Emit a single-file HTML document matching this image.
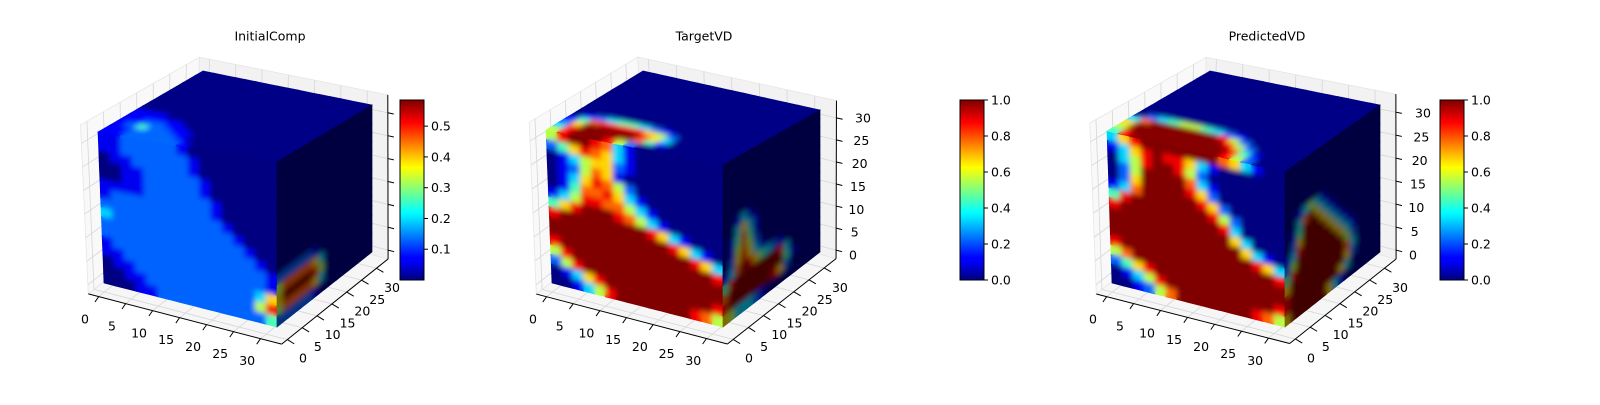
<!DOCTYPE html>
<html><head><meta charset="utf-8"><title>Voxel comparison</title>
<style>
html,body{margin:0;padding:0;background:#fff;}
svg text{font-family:"DejaVu Sans","Liberation Sans",sans-serif;fill:#000;}
</style></head>
<body>
<svg id="chart" width="1600" height="400" viewBox="0 0 1600 400" xmlns="http://www.w3.org/2000/svg">
<defs>
<linearGradient id="jetGrad" x1="0" y1="1" x2="0" y2="0">
<stop offset="0" stop-color="#00007f"/><stop offset="0.11" stop-color="#0000ff"/>
<stop offset="0.125" stop-color="#0000ff"/><stop offset="0.34" stop-color="#00e0ff"/>
<stop offset="0.375" stop-color="#00ffff"/><stop offset="0.5" stop-color="#80ff80"/>
<stop offset="0.625" stop-color="#ffff00"/><stop offset="0.66" stop-color="#ffe000"/>
<stop offset="0.875" stop-color="#ff0000"/><stop offset="1" stop-color="#7f0000"/>
</linearGradient>
<filter id="soft" x="-5%" y="-5%" width="110%" height="110%"><feGaussianBlur stdDeviation="2.6"/></filter>
</defs>
</svg>
<script>
// ---- data ----
const panelTitles = ["InitialComp", "TargetVD", "PredictedVD"];
const axisTicks = [0, 5, 10, 15, 20, 25, 30];
const voxelExtent = 32;
const cbarTicks1 = [0.1, 0.2, 0.3, 0.4, 0.5];
const cbarRange1 = [0.0, 0.585];
const cbarTicks23 = [0.0, 0.2, 0.4, 0.6, 0.8, 1.0];
const cbarRange23 = [0.0, 1.0];
// face grids: digit d = intensity level d/9 of the colour range
const front1 = ["1122222100000000","1122222210000000","0112222210000000","0011222221000000","0011222221000000","1111222222100000","1222222222100000","2222222222210000","3222222222221000","2222222222222100","2222222222222210","1222222222222221","1122222222222221","0112222222222236","0011222222222258","0001122222222224"];
const top1 = ["0000000000000000","0000000000000000","0000000000000000","0000000000000000","0000000000000000","0000000000000000","0000000000000000","0000000000000000","0000000000000000","0000000000000000","1110000000000000","1111100000000000","1122110000000000","1242211000000000","1122221000000000","1122222100000000"];
const right1 = ["0000000000000000","0000000000000000","0000000000000000","0000000000000000","0000000000000000","0000000000000000","0000000000000000","0000000000000000","0000000000000000","0000000000000000","0000000000000000","2222221000000000","5777776300000000","6999998500000000","5777776300000000","2222221000000000"];
const front2 = ["5899873100000000","2468763100000000","0135662100000000","0125761000000000","0136875200000000","0147786310000000","1358877531000000","4689998753100000","8999999998631000","9999999999986310","9999999999999863","8999999999999998","5899999999999999","2589999999999999","0136899999999998","0013589999999875"];
const top2 = ["0000000000000000","0000000000000000","0000000000000000","0000000000000000","0000000000000000","0000000000000000","0000000000000000","0000000000000000","0000000000000000","0000000000000000","0000000000000000","0123443210000000","1478888652000000","2699999863000000","3899999741000000","5899985200000000"];
const right2 = ["0000000000000000","0000000000000000","0000000000000000","0000000000000000","0000000000000000","0000000000000000","0013100000000000","0036310000000000","0147410000000000","0157520000000000","0268631000000000","1379864321000000","4899999998300000","7999999999410000","8999999986200000","6533321000000000"];
const front3 = ["3689999999763100","1368988631000000","0358998520000000","0259999731000000","0269999862000000","1379999986200000","4899999998520000","8999999999830000","9999999999963000","9999999999996310","9999999999999863","8999999999999998","5799999999999999","2468999999999999","0135899999999998","0012579999999875"];
const top3 = ["0000000000000000","0000000000000000","0000000000000000","0000000000000000","0000000000000000","0000000000000000","0000000000000000","0000000000000000","0000000000000000","0000000000000000","0000000000000000","0234554321000000","3799999985200000","6999999998520000","5999999999841000","4899999999852000"];
const right3 = ["0000000000000000","0000000000000000","0000000000000000","0000000000000000","0000000000000000","0013531000000000","0037963100000000","0149996310000000","0269999631000000","1389999963100000","2599999996310000","4899999999520000","6999999999730000","8999999999620000","8999999996300000","6999999631000000"];

// ---- layout (pixels) ----
const layouts = [
 {c000:[104,283],c100:[277,327],c001:[98,132],c101:[277,162],c111:[372,105],c011:[203,71],c110:[372,252],
  title:[270,36], cbar:[400,100,24,180], zlabels:false},
 {c000:[552,283],c100:[723,327],c001:[546,130],c101:[723,165],c111:[820,110],c011:[643,71],c110:[820,252],
  title:[704,36], cbar:[960,100,24,180], zlabels:true},
 {c000:[1112,283],c100:[1285,327],c001:[1107,131],c101:[1285,172],c111:[1380,105],c011:[1210,71],c110:[1380,252],
  title:[1267,36], cbar:[1440,100,24,180], zlabels:true}
];
const grids = [[front1,top1,right1],[front2,top2,right2],[front3,top3,right3]];
const NS = "http://www.w3.org/2000/svg";
const svg = document.getElementById("chart");
const defs = svg.querySelector("defs");

function jet(x){
  x = Math.max(0, Math.min(1, x));
  const c = v => Math.max(0, Math.min(1, v));
  return [c(1.5-Math.abs(4*x-3)), c(1.5-Math.abs(4*x-2)), c(1.5-Math.abs(4*x-1))];
}
function col(x, s){
  const [r,g,b] = jet(x);
  const f = v => Math.round(Math.min(1, v*s)*255);
  return `rgb(${f(r)},${f(g)},${f(b)})`;
}
function mk(tag, attrs, parent){
  const el = document.createElementNS(NS, tag);
  for (const k in attrs) el.setAttribute(k, attrs[k]);
  (parent || svg).appendChild(el);
  return el;
}
function projector(L){
  const c010 = [L.c000[0]+L.c110[0]-L.c100[0], L.c000[1]+L.c110[1]-L.c100[1]];
  const C = {"000":L.c000,"100":L.c100,"001":L.c001,"101":L.c101,"111":L.c111,"011":L.c011,"110":L.c110,"010":c010};
  return function(u,v,w){
    let x=0,y=0;
    for (const key in C){
      const a = key[0]==="1"?u:1-u, b = key[1]==="1"?v:1-v, d = key[2]==="1"?w:1-w;
      x += a*b*d*C[key][0]; y += a*b*d*C[key][1];
    }
    return [x,y];
  };
}
const pts = arr => arr.map(p => p[0].toFixed(1)+","+p[1].toFixed(1)).join(" ");

layouts.forEach((L, pi) => {
  const P = projector(L);
  const g = mk("g", {});
  
  
  const e = 0.06, lo = -e, hi = 1+e;
  const paneL = mk("polygon", {points: pts([P(lo,lo,lo),P(lo,hi,lo),P(lo,hi,hi),P(lo,lo,hi)]), fill:"#f9f9f9", stroke:"#e6e6e6","stroke-width":0.8}, g);
  
  
  const paneB = mk("polygon", {points: pts([P(lo,hi,lo),P(hi,hi,lo),P(hi,hi,hi),P(lo,hi,hi)]), fill:"#f2f2f2", stroke:"#e6e6e6","stroke-width":0.8}, g);
  
  
  const paneF = mk("polygon", {points: pts([P(lo,lo,lo),P(hi,lo,lo),P(hi,hi,lo),P(lo,hi,lo)]), fill:"#f6f6f6", stroke:"#e6e6e6","stroke-width":0.8}, g);
  
  
  axisTicks.forEach(t => {
    const f = t/voxelExtent;
    const lines = [[P(lo,f,lo),P(lo,f,hi)],[P(lo,lo,f),P(lo,hi,f)],[P(f,hi,lo),P(f,hi,hi)],[P(lo,hi,f),P(hi,hi,f)],[P(f,lo,lo),P(f,hi,lo)],[P(lo,f,lo),P(hi,f,lo)]];
    lines.forEach(ln => {
      const gl = mk("line", {x1:ln[0][0],y1:ln[0][1],x2:ln[1][0],y2:ln[1][1],stroke:"#d6d6d6","stroke-width":0.8}, g);
      
      
    });
  });
  const [fr, tp, rt] = grids[pi];
  const n = 16;
  const faceDefs = [
    {grid: fr, shade: 1.0, name: "front-face", outline: [P(0,0,1),P(1,0,1),P(1,0,0),P(0,0,0)], quad: (i,j) => [P(i/n,0,1-j/n),P((i+1)/n,0,1-j/n),P((i+1)/n,0,1-(j+1)/n),P(i/n,0,1-(j+1)/n)]},
    {grid: tp, shade: 1.05, name: "top-face", outline: [P(0,1,1),P(1,1,1),P(1,0,1),P(0,0,1)], quad: (i,j) => [P(i/n,1-j/n,1),P((i+1)/n,1-j/n,1),P((i+1)/n,1-(j+1)/n,1),P(i/n,1-(j+1)/n,1)]},
    {grid: rt, shade: 0.5, name: "right-face", outline: [P(1,0,1),P(1,1,1),P(1,1,0),P(1,0,0)], quad: (i,j) => [P(1,i/n,1-j/n),P(1,(i+1)/n,1-j/n),P(1,(i+1)/n,1-(j+1)/n),P(1,i/n,1-(j+1)/n)]}
  ];
  faceDefs.forEach((fd, fi) => {
    const clipId = `clip-${pi}-${fi}`;
    const cp = mk("clipPath", {id: clipId}, defs);
    mk("polygon", {points: pts(fd.outline)}, cp);
    const fg = mk("g", {}, g);
    
    
    const sharp = mk("g", {}, fg);
    const clipG = mk("g", {"clip-path": `url(#${clipId})`}, fg);
    const soft = mk("g", {filter: "url(#soft)"}, clipG);
    fd.grid.forEach((row, j) => {
      for (let i = 0; i < row.length; i++){
        const v = parseInt(row[i], 10) / 9;
        const c = col(v, fd.shade);
        const q = pts(fd.quad(i,j));
        const cell = mk("polygon", {points: q, fill:c, stroke:c, "stroke-width":0.7}, sharp);
        
        
        mk("polygon", {points: q, fill:c, stroke:c, "stroke-width":0.7}, soft);
      }
    });
  });
  const axLines = [[P(lo,lo,lo),P(hi,lo,lo)],[P(hi,lo,lo),P(hi,hi,lo)],[P(hi,hi,lo),P(hi,hi,hi)]];
  ["x-axis-line","y-axis-line","z-axis-line"].forEach((nm, k) => {
    const a = mk("line", {x1:axLines[k][0][0],y1:axLines[k][0][1],x2:axLines[k][1][0],y2:axLines[k][1][1],stroke:"#000","stroke-width":1}, g);
    
    
  });
  axisTicks.forEach(t => {
    const f = t/voxelExtent;
    let a = P(f,lo,lo), b = P(f,lo-0.04,lo-0.015);
    let tk = mk("line", {x1:a[0],y1:a[1],x2:b[0],y2:b[1],stroke:"#000","stroke-width":1}, g);
    
    
    let p = P(f,0,0);
    let tx = mk("text", {x:p[0]-19, y:p[1]+36, "font-size":12.5, "text-anchor":"middle", "dominant-baseline":"central"}, g);
    tx.textContent = t;
    
    
    a = P(hi,f,lo); b = P(hi+0.04,f,lo-0.015);
    tk = mk("line", {x1:a[0],y1:a[1],x2:b[0],y2:b[1],stroke:"#000","stroke-width":1}, g);
    
    
    p = P(1,f,0);
    tx = mk("text", {x:p[0]+26, y:p[1]+31, "font-size":12.5, "text-anchor":"middle", "dominant-baseline":"central"}, g);
    tx.textContent = t;
    
    
    a = P(hi,hi,f); b = P(hi+0.035,hi,f);
    tk = mk("line", {x1:a[0],y1:a[1],x2:b[0],y2:b[1],stroke:"#000","stroke-width":1}, g);
    
    
    if (L.zlabels){
      p = P(1,1,f);
      const q = t/30;
      tx = mk("text", {x:p[0]+33+10*q, y:p[1]+3-4*q, "font-size":12.5, "text-anchor":"middle", "dominant-baseline":"central"}, g);
      tx.textContent = t;
      
      
    }
  });
  const ti = mk("text", {x:L.title[0], y:L.title[1], "font-size":12.5, "text-anchor":"middle", "dominant-baseline":"central"}, g);
  ti.textContent = panelTitles[pi];
  
  
  const [cx, cy, cw, ch] = L.cbar;
  const cb = mk("rect", {x:cx, y:cy, width:cw, height:ch, fill:"url(#jetGrad)", stroke:"#000","stroke-width":1}, g);
  
  
  const ticks = pi === 0 ? cbarTicks1 : cbarTicks23;
  const rng = pi === 0 ? cbarRange1 : cbarRange23;
  ticks.forEach(v => {
    const yy = cy + ch - (v - rng[0]) / (rng[1] - rng[0]) * ch;
    const tl = mk("line", {x1:cx+cw, y1:yy, x2:cx+cw+4, y2:yy, stroke:"#000","stroke-width":1}, g);
    
    
    const lb = mk("text", {x:cx+cw+7, y:yy, "font-size":12.5, "dominant-baseline":"central"}, g);
    lb.textContent = v.toFixed(1);
    
    
  });
});
</script>
</body></html>
